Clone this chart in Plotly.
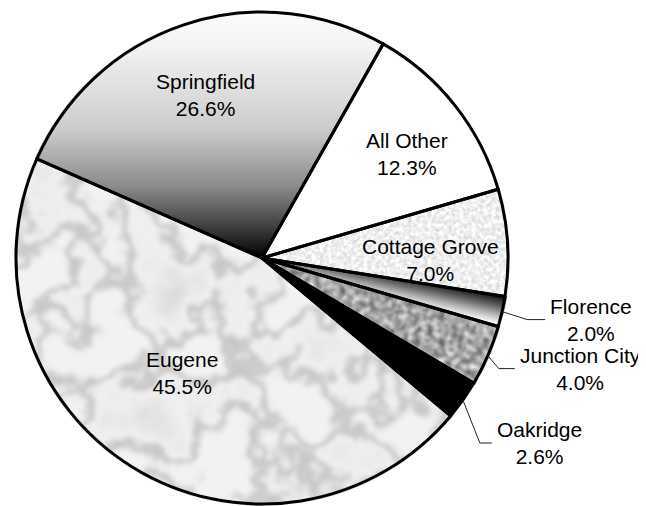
import base64
import numpy as np
import plotly.graph_objects as go

# ---- data ----
labels = ["All Other", "Cottage Grove", "Florence", "Junction City", "Oakridge", "Eugene", "Springfield"]
shares = [12.3, 7.0, 2.0, 4.0, 2.6, 45.5, 26.6]
pct_text = ["12.3%", "7.0%", "2.0%", "4.0%", "2.6%", "45.5%", "26.6%"]

# ---- layout / style constants ----
W, H = 646, 506
PAGE_OFF = 8            # default body margin of the html page
CX, CY, R = 262, 258, 246
ROT = 29.5
FONT = dict(family="Arial, Liberation Sans, sans-serif", size=21, color="black")
TRANSPARENT = "rgba(0,0,0,0)"

# slice fills: textured slices are painted by an svg texture image beneath the pie
fills = {"All Other": "#ffffff", "Cottage Grove": TRANSPARENT, "Florence": TRANSPARENT,
         "Junction City": TRANSPARENT, "Oakridge": "#000000", "Eugene": TRANSPARENT,
         "Springfield": TRANSPARENT}

# label placement style: (radius factor, angle offset in degrees)
inside_style = {"All Other": (0.724, 2.7), "Cottage Grove": (0.687, 4.3),
                "Eugene": (0.569, 3.0), "Springfield": (0.70, -0.6)}
# outside leader style: elbow offset (dx, dy) in px from slice edge, horizontal run length
outside_style = {"Florence": (25, 8, 18), "Junction City": (11, 13, 16), "Oakridge": (17, 43, 12)}

cx, cy = CX - PAGE_OFF, CY - PAGE_OFF


def dom(f):
    r = R * f
    return dict(x=[(cx - r) / W, (cx + r) / W], y=[1 - (cy + r) / H, 1 - (cy - r) / H])


def to_paper(px, py):
    return (px - PAGE_OFF) / W, 1 - (py - PAGE_OFF) / H


# slice angles (clockwise from 12 o'clock), derived from the data
total = sum(shares)
angles = {}
acc = ROT
for lab, v in zip(labels, shares):
    span = v / total * 360
    angles[lab] = (acc, acc + span)
    acc += span


def pt(a, r):
    t = np.radians(a)
    return cx + r * np.sin(t), cy - r * np.cos(t)


def wedge(lab, r):
    a0, a1 = angles[lab]
    x0, y0 = pt(a0, r)
    x1, y1 = pt(a1, r)
    large = 1 if (a1 - a0) > 180 else 0
    return f"M{cx:.2f},{cy:.2f} L{x0:.2f},{y0:.2f} A{r},{r} 0 {large} 1 {x1:.2f},{y1:.2f} Z"


# ---- texture image (gradients / noise textures) ----
RT = R + 2
vv = np.linspace(0, 1, 81)
marble_vals = 0.95 - 0.17 * np.exp(-((vv - 0.5) / 0.05) ** 2) - 0.25 * np.clip(0.42 - vv, 0, None)
marble_tbl = " ".join(f"{v:.3f}" for v in marble_vals)
fa0, fa1 = angles["Florence"]
fax, fay = pt(fa0 + 0.4, 0.93 * R)
fbx, fby = pt(fa1 - 0.4, 0.93 * R)


def noise_filter(fid, freq, octaves, seed, funcs, blur):
    f = "".join(f'<feFunc{c} {funcs}/>' for c in "RGB")
    return (f'<filter id="{fid}" filterUnits="userSpaceOnUse" x="0" y="0" width="{W}" height="{H}" '
            f'color-interpolation-filters="sRGB">'
            f'<feTurbulence type="fractalNoise" baseFrequency="{freq}" numOctaves="{octaves}" seed="{seed}"/>'
            f'<feColorMatrix type="matrix" values="1 0 0 0 0 1 0 0 0 0 1 0 0 0 0 0 0 0 0 1"/>'
            f'<feComponentTransfer>{f}</feComponentTransfer>'
            f'<feGaussianBlur stdDeviation="{blur}"/></filter>')


svg = (
    f'<svg xmlns="http://www.w3.org/2000/svg" width="{W}" height="{H}" viewBox="0 0 {W} {H}">'
    '<defs>'
    f'<linearGradient id="gS" gradientUnits="userSpaceOnUse" x1="0" y1="{cy - R}" x2="0" y2="{cy}">'
    '<stop offset="0" stop-color="#fcfcfc"/><stop offset="0.15" stop-color="#f2f2f2"/>'
    '<stop offset="0.48" stop-color="#cbcbcb"/><stop offset="0.71" stop-color="#8a8a8a"/>'
    '<stop offset="0.87" stop-color="#404040"/><stop offset="1" stop-color="#000000"/>'
    '</linearGradient>'
    f'<linearGradient id="gF" gradientUnits="userSpaceOnUse" x1="{fax:.2f}" y1="{fay:.2f}" x2="{fbx:.2f}" y2="{fby:.2f}">'
    '<stop offset="0" stop-color="#202020"/><stop offset="0.35" stop-color="#6a6a6a"/>'
    '<stop offset="0.7" stop-color="#bdbdbd"/><stop offset="1" stop-color="#f8f8f8"/>'
    '</linearGradient>'
    + noise_filter("fE", 0.016, 5, 11, f'type="table" tableValues="{marble_tbl}"', 2.0)
    + noise_filter("fJ", 0.16, 3, 3, 'type="linear" slope="0.9" intercept="0.2"', 0.8)
    + noise_filter("fC", 0.25, 2, 5, 'type="linear" slope="0.3" intercept="0.79"', 0.5)
    + f'<clipPath id="cE"><path d="{wedge("Eugene", RT)}"/></clipPath>'
    + f'<clipPath id="cJ"><path d="{wedge("Junction City", RT)}"/></clipPath>'
    + f'<clipPath id="cC"><path d="{wedge("Cottage Grove", RT)}"/></clipPath>'
    + '</defs>'
    + f'<path d="{wedge("Springfield", RT)}" fill="url(#gS)"/>'
    + f'<path d="{wedge("Florence", RT)}" fill="url(#gF)"/>'
    + f'<g clip-path="url(#cE)"><rect x="0" y="0" width="{W}" height="{H}" fill="#fff" filter="url(#fE)"/></g>'
    + f'<g clip-path="url(#cJ)"><rect x="0" y="0" width="{W}" height="{H}" fill="#fff" filter="url(#fJ)"/></g>'
    + f'<g clip-path="url(#cC)"><rect x="0" y="0" width="{W}" height="{H}" fill="#fff" filter="url(#fC)"/></g>'
    + '</svg>'
)
svg_uri = "data:image/svg+xml;base64," + base64.b64encode(svg.encode()).decode()

fig = go.Figure()
fig.add_trace(go.Pie(
    labels=labels, values=shares, sort=False, direction="clockwise", rotation=ROT,
    domain=dom(1.0), textinfo="none", hoverinfo="label+percent", showlegend=False,
    marker=dict(colors=[fills[l] for l in labels], line=dict(color="black", width=3)),
))

# labels
annotations = []
shapes = []
for lab, pct in zip(labels, pct_text):
    a0, a1 = angles[lab]
    mid = (a0 + a1) / 2
    if lab in inside_style:
        rf, off = inside_style[lab]
        px, py = pt(mid + off, rf * R)
        x, y = to_paper(px + PAGE_OFF, py + PAGE_OFF)
        annotations.append(dict(x=x, y=y, xref="paper", yref="paper", text=f"{lab}<br>{pct}",
                                showarrow=False, font=FONT, align="center",
                                xanchor="center", yanchor="middle"))
    else:
        dx, dy, run = outside_style[lab]
        sx, sy = pt(mid, R)
        sx, sy = sx + PAGE_OFF, sy + PAGE_OFF
        ex, ey = sx + dx, sy + dy
        hx = ex + run
        for (x0, y0, x1, y1) in [(sx, sy, ex, ey), (ex, ey, hx, ey)]:
            p0 = to_paper(x0, y0)
            p1 = to_paper(x1, y1)
            shapes.append(dict(type="line", xref="paper", yref="paper",
                               x0=p0[0], y0=p0[1], x1=p1[0], y1=p1[1],
                               line=dict(color="#222222", width=1)))
        x, y = to_paper(hx + 3, ey)
        annotations.append(dict(x=x, y=y, xref="paper", yref="paper", text=f"{lab}<br>{pct}",
                                showarrow=False, font=FONT, align="center",
                                xanchor="left", yanchor="middle"))

fig.update_layout(
    width=W, height=H, margin=dict(l=0, r=0, t=0, b=0),
    paper_bgcolor="white", plot_bgcolor="white",
    showlegend=False, annotations=annotations, shapes=shapes,
    images=[dict(source=svg_uri, xref="paper", yref="paper", x=0, y=1, sizex=1, sizey=1,
                 xanchor="left", yanchor="top", sizing="stretch", layer="below")],
)

fig.write_html("out.html")
